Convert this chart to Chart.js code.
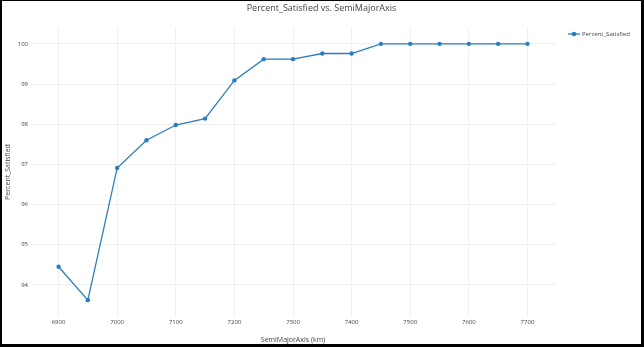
<!DOCTYPE html>
<html>
<head>
<meta charset="utf-8">
<script src="https://cdn.jsdelivr.net/npm/chart.js@4/dist/chart.umd.min.js"></script>
<style>
  html, body { margin: 0; padding: 0; background: #fff; }
  #frame {
    width: 644px; height: 347px; box-sizing: border-box;
    border-style: solid; border-color: #000;
    border-width: 1px 3px 3px 2px;
  }
  canvas { display: block; }
</style>
</head>
<body>
<div id="frame"><canvas id="satChart" width="639" height="343"></canvas></div>
<script>
// orbit size vs. share of requests satisfied
const semiMajorAxis = [6900, 6950, 7000, 7050, 7100, 7150, 7200, 7250, 7300, 7350, 7400, 7450, 7500, 7550, 7600, 7650, 7700];
const percentSatisfied = [94.45, 93.62, 96.91, 97.6, 97.98, 98.14, 99.09, 99.62, 99.62, 99.76, 99.76, 100, 100, 100, 100, 100, 100];
const xTicks = [6900, 7000, 7100, 7200, 7300, 7400, 7500, 7600, 7700];
const yTicks = [94, 95, 96, 97, 98, 99, 100];

const lineColor = '#2b7dbc';
const textColor = '#444';
const gridColor = '#f0f0f0';
const fontFamily = '"Open Sans", sans-serif';

// plotly-style legend entry: short line with a marker in the middle
const sideLegend = {
    id: 'sideLegend',
    afterDraw(chart) {
        const ctx = chart.ctx;
        const ds = chart.data.datasets[0];
        const y = 33;
        ctx.save();
        ctx.strokeStyle = ds.borderColor;
        ctx.lineWidth = ds.borderWidth;
        ctx.beginPath();
        ctx.moveTo(566, y);
        ctx.lineTo(578, y);
        ctx.stroke();
        ctx.fillStyle = ds.borderColor;
        ctx.beginPath();
        ctx.arc(572, y, 2.3, 0, Math.PI * 2);
        ctx.fill();
        ctx.font = '6px ' + fontFamily;
        ctx.fillStyle = textColor;
        ctx.textAlign = 'left';
        ctx.textBaseline = 'middle';
        ctx.fillText(ds.label, 580, y);
        ctx.restore();
    }
};

new Chart(document.getElementById('satChart'), {
    type: 'line',
    data: {
        datasets: [{
            label: 'Percent_Satisfied',
            data: semiMajorAxis.map((x, i) => ({ x: x, y: percentSatisfied[i] })),
            borderColor: lineColor,
            backgroundColor: lineColor,
            borderWidth: 1.3,
            pointRadius: 2.2,
            pointBorderWidth: 0,
            tension: 0,
            fill: false
        }]
    },
    options: {
        responsive: false,
        animation: false,
        layout: { padding: 0 },
        plugins: {
            legend: { display: false },
            tooltip: { enabled: false },
            title: {
                display: true,
                text: 'Percent_Satisfied vs. SemiMajorAxis',
                color: textColor,
                font: { family: fontFamily, size: 9, weight: 'normal' },
                padding: { top: 2, bottom: 13.2 }
            }
        },
        scales: {
            x: {
                type: 'linear',
                min: 6853,
                max: 7747,
                afterBuildTicks: s => { s.ticks = xTicks.map(v => ({ value: v })); },
                afterFit: s => { s.height = 27; },
                grid: { color: gridColor, drawTicks: false },
                border: { display: false },
                ticks: {
                    color: textColor,
                    font: { family: fontFamily, size: 6 },
                    padding: 2,
                    maxRotation: 0,
                    callback: v => String(v)
                },
                title: {
                    display: true,
                    text: 'SemiMajorAxis (km)',
                    color: textColor,
                    font: { family: fontFamily, size: 7 },
                    padding: { top: 0, bottom: 0 }
                }
            },
            y: {
                min: 93.2,
                max: 100.42,
                afterBuildTicks: s => { s.ticks = yTicks.map(v => ({ value: v })); },
                afterFit: s => { s.width = 29; },
                grid: { color: gridColor, drawTicks: false },
                border: { display: false },
                ticks: {
                    color: textColor,
                    font: { family: fontFamily, size: 6 },
                    padding: 3,
                    callback: v => String(v)
                },
                title: {
                    display: true,
                    text: 'Percent_Satisfied',
                    color: textColor,
                    font: { family: fontFamily, size: 7 },
                    padding: { top: 2, bottom: 0 }
                }
            },
            // empty right-hand column that holds the legend, so the title stays centred on the page
            legendSpace: {
                type: 'linear',
                position: 'right',
                min: 0,
                max: 1,
                afterFit: s => { s.width = 86; },
                grid: { display: false },
                border: { display: false },
                ticks: { display: false }
            }
        }
    },
    plugins: [sideLegend]
});
</script>
</body>
</html>
